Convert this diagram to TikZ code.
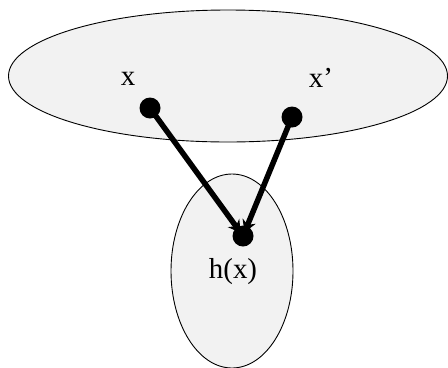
\documentclass[tikz,border=0pt]{standalone}
\usepackage{fontspec}
\setmainfont{Liberation Serif}
\usetikzlibrary{arrows.meta}
\definecolor{setfill}{HTML}{F2F2F2}
\begin{document}
\begin{tikzpicture}[x=1bp,y=-1bp,
  setshape/.style={draw=black,line width=0.9bp,fill=setfill},
  dotnode/.style={circle,fill=black,inner sep=0pt,minimum size=21bp},
  lbl/.style={font=\fontsize{29}{32}\selectfont,inner sep=0pt},
  maparrow/.style={line width=5.5bp,-{Stealth[length=12bp,width=14bp]},shorten >=4bp}]
\useasboundingbox (0,0) rectangle (448,367);
\draw[setshape] (228,76) ellipse [x radius=219.5, y radius=66];
\draw[setshape] (232,271) ellipse [x radius=61, y radius=97];
\node[dotnode] (x) at (150,108) {};
\node[dotnode] (xp) at (292,117) {};
\node[dotnode] (h) at (243,236) {};
\node[lbl] (lx) at (128,79) {x};
\node[lbl] (lxp) at (321,78) {x’};
\node[lbl] (lh) at (233,272) {h(x)};
\draw[maparrow] (x.center) -- (h.center);
\draw[maparrow] (xp.center) -- (h.center);
\end{tikzpicture}
\end{document}
